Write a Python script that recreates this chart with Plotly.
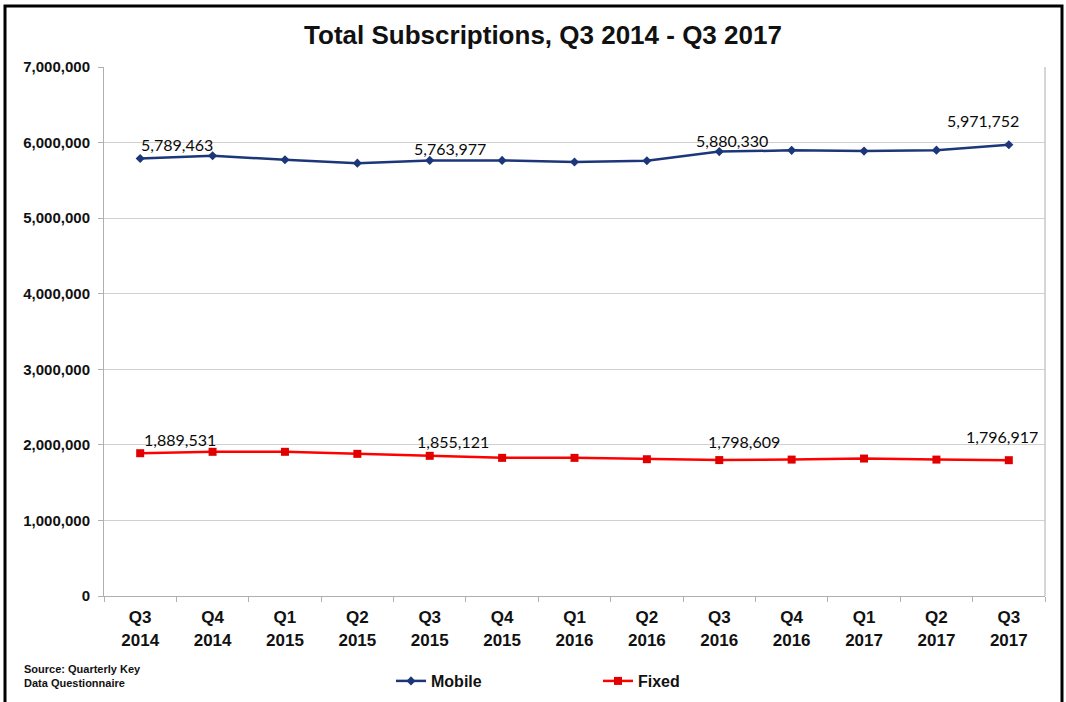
import plotly.graph_objects as go

quarters = ["Q3<br>2014", "Q4<br>2014", "Q1<br>2015", "Q2<br>2015", "Q3<br>2015", "Q4<br>2015",
            "Q1<br>2016", "Q2<br>2016", "Q3<br>2016", "Q4<br>2016", "Q1<br>2017", "Q2<br>2017", "Q3<br>2017"]
mobile = [5789463, 5825000, 5772000, 5728000, 5763977, 5764000, 5742000, 5759000,
          5880330, 5897000, 5887000, 5900000, 5971752]
fixed = [1889531, 1908000, 1908000, 1881000, 1855121, 1828000, 1828000, 1810000,
         1798609, 1805000, 1819000, 1805000, 1796917]
yticks = [0, 1000000, 2000000, 3000000, 4000000, 5000000, 6000000, 7000000]
ytick_text = ["0", "1,000,000", "2,000,000", "3,000,000", "4,000,000", "5,000,000", "6,000,000", "7,000,000"]

# labelled points: (index, xshift, yshift)
mobile_labels = [(0, 37, 14), (4, 20, 12), (8, 13, 11), (12, -26, 24)]
fixed_labels = [(0, 40, 14), (4, 23, 14), (8, 25, 19), (12, -7, 24)]

W, H = 1066, 702
L, R, T, B = 104, 21, 67, 106
PW, PH = W - L - R, H - T - B

def px(x):
    return (x - L) / PW

def py(y):
    return (H - B - y) / PH

FONT = "Liberation Sans, Arial, sans-serif"

fig = go.Figure()
fig.add_trace(go.Scatter(x=quarters, y=mobile, name="<b>Mobile</b>", mode="lines+markers",
                         line=dict(color="#1b3679", width=2.5),
                         marker=dict(symbol="diamond", size=7, color="#1b3679")))
fig.add_trace(go.Scatter(x=quarters, y=fixed, name="<b>Fixed</b>", mode="lines+markers",
                         line=dict(color="#ff0000", width=2.5),
                         marker=dict(symbol="square", size=8, color="#e00000")))

for series, labels in ((mobile, mobile_labels), (fixed, fixed_labels)):
    for i, xs, ys in labels:
        fig.add_annotation(x=quarters[i], y=series[i], text=f"{series[i]:,}", showarrow=False,
                           xshift=xs, yshift=ys,
                           font=dict(family="Lato, Open Sans, sans-serif", size=16, color="#0a0a0a"))

fig.add_annotation(xref="paper", yref="paper", x=px(22), y=py(661), xanchor="left", yanchor="top",
                   align="left", showarrow=False,
                   text="<b>Source: Quarterly Key<br>Data Questionnaire</b>",
                   font=dict(family=FONT, size=11, color="#111"))

fig.update_layout(
    width=W, height=H,
    margin=dict(l=L, r=R, t=T, b=B, autoexpand=False),
    paper_bgcolor="white", plot_bgcolor="white",
    title=dict(text="<b>Total Subscriptions, Q3 2014 - Q3 2017</b>", x=px(543), xanchor="center",
               y=1 - 35 / H, yanchor="middle", xref="paper",
               font=dict(family=FONT, size=26, color="#111")),
    showlegend=True,
    legend=dict(orientation="h", x=px(391), xanchor="left", y=py(681), yanchor="middle",
                font=dict(family=FONT, size=16, color="#111"),
                entrywidth=162, itemwidth=30, traceorder="normal"),
    font=dict(family=FONT, color="#111"),
)
fig.update_xaxes(type="category", range=[-0.5, 12.5], autorange=False, showgrid=False,
                 showline=True, linecolor="#b0b0b0", linewidth=1,
                 ticks="outside", tickson="boundaries", ticklen=5, tickcolor="#b0b0b0",
                 ticklabelstandoff=6,
                 tickfont=dict(family=FONT, size=17, color="#111"),
                 tickvals=quarters, ticktext=[f"<b>{q}</b>" for q in quarters], automargin=False)
fig.update_yaxes(range=[0, 7000000], tickvals=yticks, ticktext=[f"<b>{t}</b>" for t in ytick_text],
                 showgrid=True, gridcolor="#d0d0d0", gridwidth=1, showline=True, linecolor="#b0b0b0",
                 ticks="outside", ticklen=5, tickcolor="#b0b0b0", zeroline=False, automargin=False,
                 ticklabelstandoff=5,
                 tickfont=dict(family=FONT, size=15, color="#111"))
# right border of plot area
fig.add_shape(type="line", xref="paper", yref="paper", x0=1, x1=1, y0=0, y1=1,
              line=dict(color="#c8c8c8", width=1.5))
# outer black frame
fig.add_shape(type="rect", xref="paper", yref="paper", x0=px(5), x1=px(1062), y0=py(720), y1=py(6),
              line=dict(color="black", width=3), layer="above")

fig.write_html("out.html", config={"displayModeBar": False},
               post_script="document.body.style.margin='0px';")
